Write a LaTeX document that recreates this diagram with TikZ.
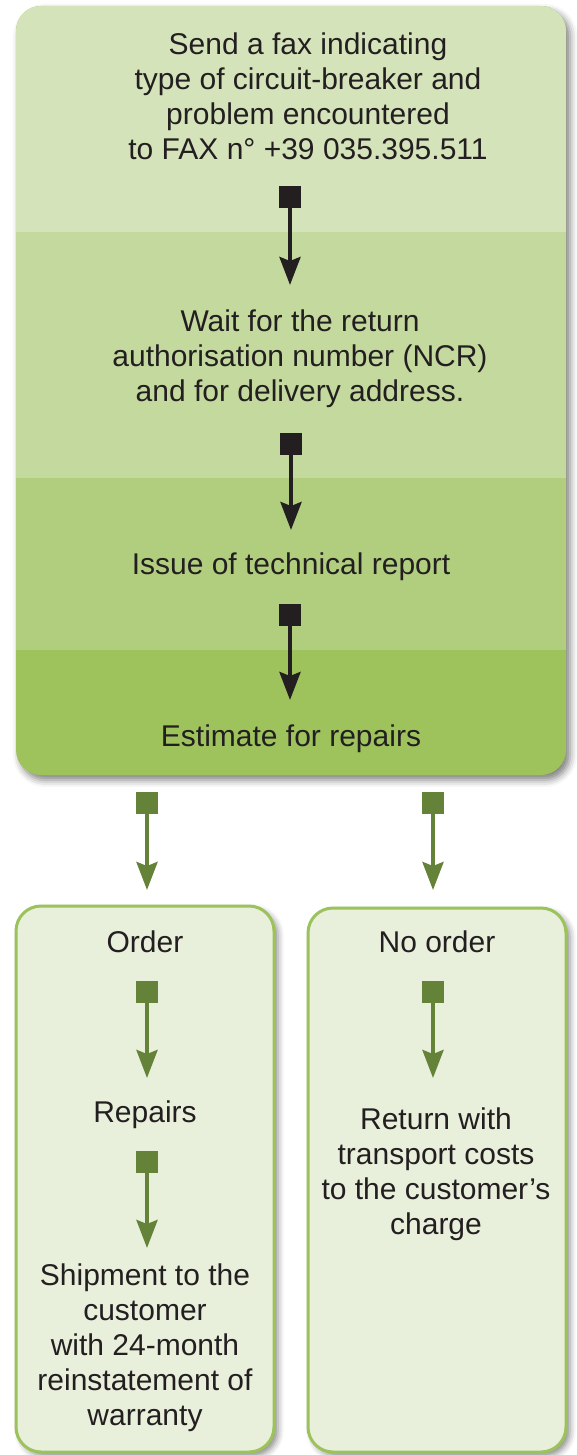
\documentclass[tikz,border=0pt]{standalone}
\usepackage{fontspec}
\setmainfont{Liberation Sans}
\usetikzlibrary{arrows.meta, shadows.blur}
\definecolor{bandA}{HTML}{D5E3BA}
\definecolor{bandB}{HTML}{C4D99E}
\definecolor{bandC}{HTML}{B1CE7F}
\definecolor{bandD}{HTML}{9EC35D}
\definecolor{leafgreen}{HTML}{658239}
\definecolor{inkblack}{HTML}{231F20}
\definecolor{paleleaf}{HTML}{E8EFDB}
\definecolor{rimgreen}{HTML}{9CC25B}
\tikzset{steptext/.style={font=\fontsize{30}{35}\selectfont,text=inkblack,align=center,inner sep=0pt,anchor=north},
         blksq/.style={fill=inkblack,minimum size=22pt,inner sep=0pt},
         grnsq/.style={fill=leafgreen,minimum size=22pt,inner sep=0pt},
         blkflow/.style={draw=inkblack,line width=4pt,-{Stealth[length=28pt,width=21pt,inset=4pt]}},
         grnflow/.style={draw=leafgreen,line width=4pt,-{Stealth[length=28pt,width=21pt,inset=4pt]}},
         branchbox/.style={draw=rimgreen,line width=3pt,fill=paleleaf,rounded corners=25pt,
                           blur shadow={shadow xshift=4pt,shadow yshift=-4pt,shadow blur radius=6pt,shadow opacity=45}}}

\begin{document}
\begin{tikzpicture}[x=1pt,y=-1pt]
        \useasboundingbox (0,0) rectangle (576,1455);

        % main box with four bands
        \fill[bandD,rounded corners=25pt,blur shadow={shadow xshift=4pt,shadow yshift=-5pt,shadow blur radius=7pt,shadow opacity=50}](16,6)rectangle(566,775);
        \begin{scope}
            \clip[rounded corners=25pt](16,6)rectangle(566,775);
            \fill[bandA](16,6)rectangle(566,232);
            \fill[bandB](16,232)rectangle(566,478);
            \fill[bandC](16,478)rectangle(566,650);
        \end{scope}

        % the two outcome boxes
        \path[branchbox](16,906)rectangle(274,1452);
        \path[branchbox](308,908)rectangle(566,1452);

        \node[steptext](fax)at(308,33){Send a fax indicating\\type of circuit-breaker and\\problem encountered\\to FAX n° +39 035.395.511};
        \node[steptext](ncr)at(300,310){Wait for the return\\authorisation number (NCR)\\and for delivery address.};
        \node[steptext](report)at(291,553){Issue of technical report};
        \node[steptext](estimate)at(291,725){Estimate for repairs};

        \node[steptext](order)at(145,931){Order};
        \node[steptext](repairs)at(145,1101){Repairs};
        \node[steptext](shipment)at(145,1264){Shipment to the\\customer\\with 24-month\\reinstatement of\\warranty};
        \node[steptext](noorder)at(437,931){No order};
        \node[steptext](return)at(436,1108){Return with\\transport costs\\to the customer’s\\charge};

        \node[blksq](s1)at(290,197){};
        \node[blksq](s2)at(291,444){};
        \node[blksq](s3)at(290,615){};
        \node[grnsq](g1)at(147,803){};
        \node[grnsq](g2)at(433,803){};
        \node[grnsq](g3)at(147,992){};
        \node[grnsq](g4)at(147,1162){};
        \node[grnsq](g5)at(433,992){};

        \coordinate(e1)at(290,285);
        \coordinate(e2)at(291,530);
        \coordinate(e3)at(290,700);
        \coordinate(e4)at(147,890);
        \coordinate(e5)at(433,890);
        \coordinate(e6)at(147,1078);
        \coordinate(e7)at(147,1248);
        \coordinate(e8)at(433,1078);

        \draw[blkflow](s1.south)--(e1);
        \draw[blkflow](s2.south)--(e2);
        \draw[blkflow](s3.south)--(e3);
        \draw[grnflow](g1.south)--(e4);
        \draw[grnflow](g2.south)--(e5);
        \draw[grnflow](g3.south)--(e6);
        \draw[grnflow](g4.south)--(e7);
        \draw[grnflow](g5.south)--(e8);
    \end{tikzpicture}
\end{document}
